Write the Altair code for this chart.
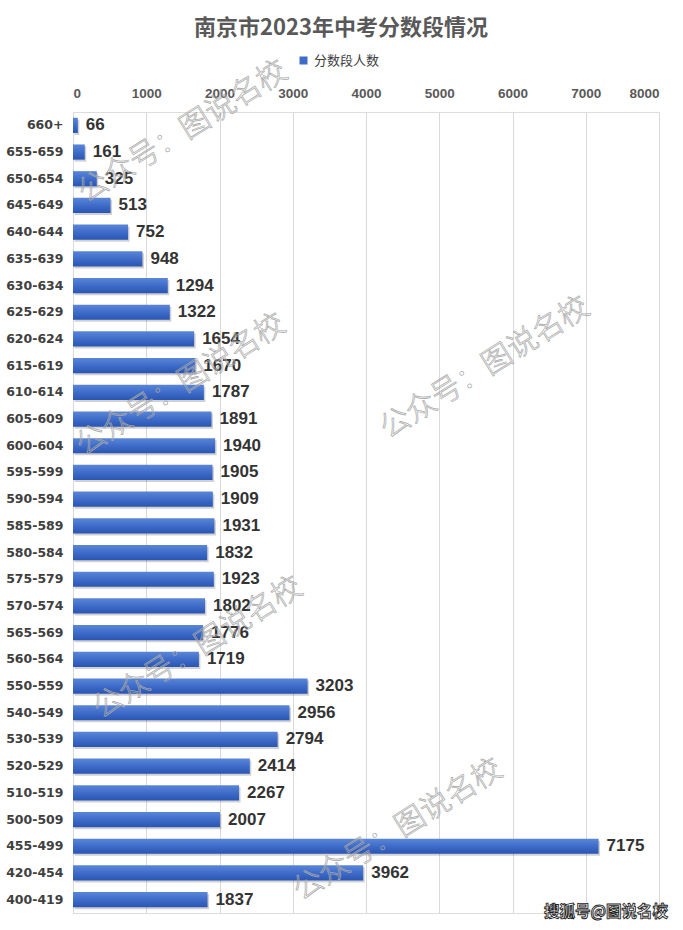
import altair as alt
import pandas as pd

categories = ["660+", "655-659", "650-654", "645-649", "640-644", "635-639", "630-634",
              "625-629", "620-624", "615-619", "610-614", "605-609", "600-604", "595-599",
              "590-594", "585-589", "580-584", "575-579", "570-574", "565-569", "560-564",
              "550-559", "540-549", "530-539", "520-529", "510-519", "500-509", "455-499",
              "420-454", "400-419"]
counts = [66, 161, 325, 513, 752, 948, 1294, 1322, 1654, 1670, 1787, 1891, 1940, 1905,
          1909, 1931, 1832, 1923, 1802, 1776, 1719, 3203, 2956, 2794, 2414, 2267, 2007,
          7175, 3962, 1837]
x_ticks = [0, 1000, 2000, 3000, 4000, 5000, 6000, 7000, 8000]
series_name = "分数段人数"
title_text = "南京市2023年中考分数段情况"
watermark = "公众号：图说名校"
footer = "搜狐号@图说名校"

df = pd.DataFrame({"段": categories, "人数": counts})
df["series"] = series_name

W, H = 586, 801
PL, PT = 73, 112

base = alt.Chart(df)

y_enc = alt.Y("段:N", sort=categories, title=None,
              scale=alt.Scale(paddingInner=0.43, paddingOuter=0.215),
              axis=alt.Axis(labelFont="DejaVu Sans", labelFontSize=12.5, labelFontWeight="bold",
                            labelColor="#404040", ticks=False, domain=False, labelPadding=10))
x_enc = alt.X("人数:Q", title=None,
              scale=alt.Scale(domain=[0, 8000], nice=False),
              axis=alt.Axis(orient="top", values=x_ticks, format="d", labelFont="Liberation Sans",
                            labelFontSize=13.5, labelFontWeight="bold", labelColor="#595959",
                            ticks=False, domain=False, labelPadding=12,
                            gridColor="#d9d9d9", gridWidth=1))

grad = alt.LinearGradient(gradient="linear",
                          stops=[alt.GradientStop(offset=0, color="#5a86d8"),
                                 alt.GradientStop(offset=0.5, color="#3f6cc9"),
                                 alt.GradientStop(offset=1, color="#2a55b3")],
                          x1=0, x2=0, y1=0, y2=1)

shadow = base.mark_bar(color="#000000", opacity=0.18, yOffset=2, xOffset=1.5).encode(y=y_enc, x=x_enc)
bars = base.mark_bar(color=grad).encode(y=y_enc, x=x_enc)

labels = base.mark_text(align="left", baseline="middle", dx=8, font="Liberation Sans",
                        fontSize=17, fontWeight="bold", color="#333333").encode(
    y=alt.Y("段:N", sort=categories), x=alt.X("人数:Q"), text=alt.Text("人数:Q"))

legend_layer = base.mark_square(opacity=0).encode(
    y=alt.Y("段:N", sort=categories),
    x=alt.X("人数:Q"),
    color=alt.Color("series:N", scale=alt.Scale(range=["#3f6cc9"]),
                    legend=alt.Legend(orient="none", legendX=224, legendY=-58, title=None,
                                      symbolType="square", symbolSize=64, symbolOpacity=1,
                                      symbolStrokeWidth=0, padding=0,
                                      labelFont="Noto Sans CJK SC", labelFontSize=13,
                                      labelColor="#404040", labelOffset=4)))

one = alt.Data(values=[{"k": 1}])
wm_positions = [(110, 20), (108, 273), (412, 256), (125, 536), (325, 718)]
wm_layers = []
for (wx, wy) in wm_positions:
    wm_layers.append(alt.Chart(one).mark_text(
        text=watermark, font="Noto Sans CJK SC", fontSize=30, fontWeight=300, angle=328,
        fillOpacity=0, stroke="#a8a8a8", strokeWidth=0.7, align="center", baseline="middle"
    ).encode(x=alt.value(wx), y=alt.value(wy)))

footer_layer = alt.Chart(one).mark_text(
    text=footer, font="Noto Sans CJK SC", fontSize=15.5, fontWeight="bold",
    fill="#ffffff", stroke="#222222", strokeWidth=0.9, align="center", baseline="middle"
).encode(x=alt.value(533), y=alt.value(800))

chart = alt.layer(shadow, bars, labels, legend_layer, *wm_layers, footer_layer).properties(
    width=W, height=H,
    padding={"left": PL, "top": PT, "right": 683 - PL - W, "bottom": 930 - PT - H},
    autosize=alt.AutoSizeParams(type="none"),
    title=alt.Title(title_text, font="Noto Sans CJK SC", fontSize=22, fontWeight="bold",
                    color="#595959", anchor="middle", dx=-25, offset=14),
).configure_view(stroke=None).configure(background="#ffffff")

chart.save("out.html", embed_options={"renderer": "svg", "actions": False})
